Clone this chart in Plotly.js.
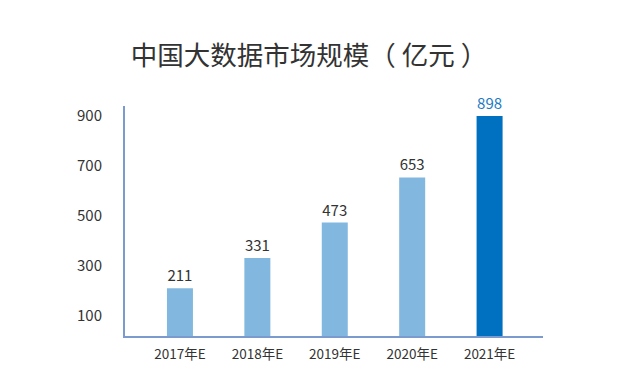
<!DOCTYPE html>
<html>
<head>
<meta charset="utf-8">
<script src="https://cdn.plot.ly/plotly-3.0.1.min.js"></script>
<style>html,body{margin:0;padding:0;background:#fff;}#chart{width:624px;height:385px;}</style>
</head>
<body>
<div id="chart"></div>
<script>
const categories = ['2017年E', '2018年E', '2019年E', '2020年E', '2021年E'];
const values = [211, 331, 473, 653, 898];
const yTicks = [100, 300, 500, 700, 900];
const titleText = '中国大数据市场规模（ 亿元 ）';

const lightBlue = '#82b8df';
const darkBlue = '#0070c0';
const barColors = categories.map((c, i) => i === categories.length - 1 ? darkBlue : lightBlue);
const labelColors = categories.map((c, i) => i === categories.length - 1 ? '#1a7ac4' : '#333333');
const FONT = '"Noto Sans CJK SC", "Noto Sans", sans-serif';

const trace = {
  type: 'bar',
  x: categories,
  y: values,
  width: 0.336,
  marker: {color: barColors, line: {width: 0}},
  text: values.map(String),
  textposition: 'outside',
  textfont: {family: FONT, size: 15, color: labelColors},
  constraintext: 'none',
  cliponaxis: false,
  hoverinfo: 'none'
};

const layout = {
  width: 624, height: 385,
  margin: {l: 125, r: 81, t: 106, b: 49, pad: 0},
  paper_bgcolor: '#ffffff',
  plot_bgcolor: '#ffffff',
  showlegend: false,
  title: {
    text: titleText,
    font: {family: FONT, size: 26.5, color: '#333333'},
    x: 309 / 624, xanchor: 'center', xref: 'container',
    y: 1 - 56 / 385, yanchor: 'middle', yref: 'container'
  },
  xaxis: {
    type: 'category',
    range: [-0.71, 4.69],
    showline: true, linecolor: '#7b9bcf', linewidth: 2,
    showgrid: false, zeroline: false,
    ticks: '', ticklabelstandoff: 5,
    tickfont: {family: FONT, size: 13.5, color: '#333333'}
  },
  yaxis: {
    range: [20, 938],
    tickvals: yTicks,
    ticktext: yTicks.map(String),
    showline: true, linecolor: '#7b9bcf', linewidth: 2,
    showgrid: false, zeroline: false,
    ticks: '', ticklabelstandoff: 18,
    tickfont: {family: FONT, size: 15, color: '#333333'}
  },
  bargap: 0.66
};

Plotly.newPlot('chart', [trace], layout, {displayModeBar: false, staticPlot: true});
</script>
</body>
</html>
